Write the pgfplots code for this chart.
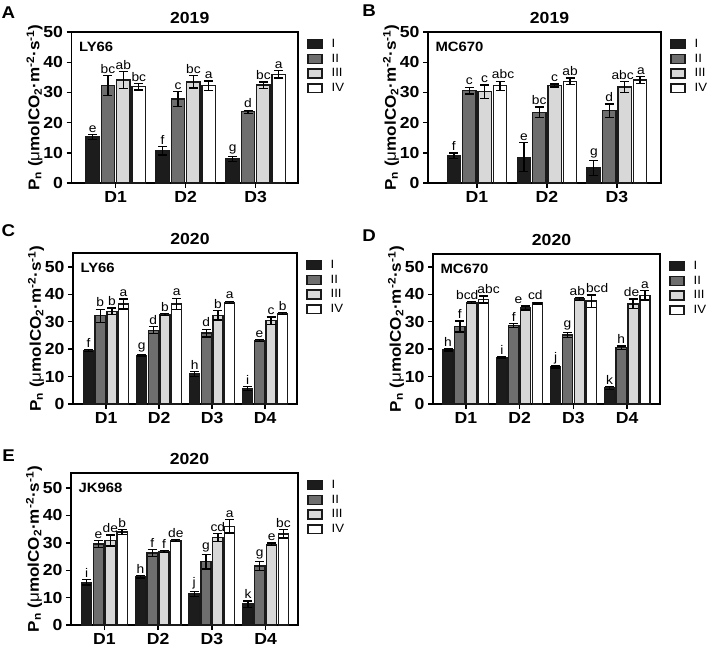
\documentclass[border=0pt]{standalone}
\usepackage{fontspec}
\setmainfont{Liberation Sans}[FakeStretch=1.1]
\usepackage{pgfplots}
\usepackage{pgfplotstable}
\pgfplotsset{compat=1.18}
\definecolor{cI}{HTML}{1C1C1C}
\definecolor{cII}{HTML}{6E6E6E}
\definecolor{cIII}{HTML}{D8D8D8}
\definecolor{cIV}{HTML}{FFFFFF}
\definecolor{edge}{HTML}{1A1A1A}

% columns: value, error, letter, letter x-shift (pt) for series I..IV
\pgfplotstableread{
x a ae al sa b be bl sb c ce cl sc d de dl sd
1 15.2 0.8 e 0 32.3 3.3 bc 0 34.1 2.8 ab 0 31.9 1.1 bc 0
2 10.7 1.4 f 0 27.8 2.5 c 0 33.5 2.0 bc 0 32.2 1.6 a 0
3 8.0 0.8 g 0 23.6 0.5 d 0 32.4 1.0 bc 0 36.0 1.2 a 0
}\tabA
\pgfplotstableread{
x a ae al sa b be bl sb c ce cl sc d de dl sd
1 9.0 0.9 f 0 30.6 1.1 c 0 30.2 2.3 c 0 32.2 1.5 abc 3
2 8.5 4.8 e 0 23.4 1.8 bc 0 32.3 0.5 c 0 33.7 1.1 ab 0
3 5.0 2.5 g 0 24.0 2.2 d 0 31.8 1.8 abc -2 34.1 1.2 a 1
}\tabB
\pgfplotstableread{
x a ae al sa b be bl sb c ce cl sc d de dl sd
1 19.5 0.3 f 0 32.2 2.4 b 0 33.8 1.2 b 0 36.5 1.8 a 0
2 17.8 0.3 g 0 26.9 1.3 d 0 32.6 0.4 b 0 36.5 2.1 a 0
3 11.0 0.9 h 0 25.9 1.4 d 0 32.4 1.7 b 0 37.1 0.4 a 0
4 5.6 0.7 i 0 23.2 0.4 e 0 30.4 1.3 c 0 33.0 0.3 b 0
}\tabC
\pgfplotstableread{
x a ae al sa b be bl sb c ce cl sc d de dl sd
1 19.7 0.4 h 0 28.3 2.0 f 0 37.0 0.4 bcd -4.5 38.1 1.3 abc 5
2 16.8 0.3 i 0 28.6 0.7 f 0 35.0 0.7 e -7 36.8 0.3 cd -2
3 13.5 0.4 j 0 25.2 0.9 g 0 38.3 0.6 ab -2 37.5 2.3 bcd 6
4 5.8 0.6 k 0 20.6 0.6 h 0 36.5 1.8 de -1.5 39.6 1.7 a 0
}\tabD
\pgfplotstableread{
x a ae al sa b be bl sb c ce cl sc d de dl sd
1 15.6 1.0 i 0 29.6 1.2 e 0 30.9 2.0 de 0 34.0 0.9 b 0
2 17.6 0.4 h 0 26.3 1.3 f 0 26.8 0.3 f 0 30.8 0.3 de 0
3 11.3 0.9 j 0 23.1 2.6 g 0 31.9 1.4 cd 0 36.0 2.4 a 0
4 7.6 1.2 k 0 21.5 1.7 g 0 29.5 0.4 e 0 33.3 1.5 bc 0
}\tabE

\pgfplotsset{
  panel/.style={
    scale only axis, ybar, ymin=0,
    ytick={0,10,20,30,40,50},
    axis line style={line width=1.4pt, black},
    every tick/.style={line width=1.4pt, black},
    major tick length=5pt, tick align=outside,
    xtick pos=bottom, ytick pos=left,
    /pgf/number format/assume math mode=true,
    ticklabel style={font=\bfseries\fontsize{16}{16}\selectfont},
    title style={font=\bfseries\fontsize{16}{16}\selectfont, at={(axis description cs:0.5,1)}, anchor=south, xshift=5pt, yshift=1pt, inner sep=1pt},
    ylabel={P\textsubscript{n} ({\mdseries μ}molCO\textsubscript{2}·m\textsuperscript{-2}·s\textsuperscript{-1})},
    every axis y label/.style={at={(axis description cs:0,0.5)}, xshift=-37pt, rotate=90, anchor=center, font=\bfseries\fontsize{15.5}{15.5}\selectfont},
    legend style={at={(axis description cs:1,1)}, anchor=north west, xshift=9pt, yshift=-5pt, draw=none, fill=none, font=\fontsize{12}{12}\selectfont, row sep=1pt, inner sep=0pt,
      /tikz/every odd column/.append style={column sep=7pt}},
    legend cell align=left,
    legend image code/.code={\draw[##1, line width=1.4pt] (0pt,-4.4pt) rectangle (14pt,4.4pt);},
    clip=false,
  },
  bb/.style={draw=edge, line width=1.4pt, bar width=0.19,
    error bars/y dir=both, error bars/y explicit,
    error bars/error bar style={line width=1.3pt, black},
    error bars/error mark options={rotate=90, mark size=4.5pt, line width=1.3pt, black}},
  lab/.style={draw=none, fill=none, bar width=0.19, forget plot,
    nodes near coords, point meta=explicit symbolic,
    visualization depends on={\thisrow{#1} \as \lsh},
    every node near coord/.append style={font=\fontsize{12.5}{12.5}\selectfont, anchor=south, inner sep=1pt, yshift=1pt, xshift=\lsh pt, black}},
}

\newcommand{\bars}[1]{%
  \addplot[bb, fill=cI, bar shift=-0.33] table[x=x, y=a, y error=ae] {#1};
  \addplot[bb, fill=cII, bar shift=-0.11] table[x=x, y=b, y error=be] {#1};
  \addplot[bb, fill=cIII, bar shift=0.11] table[x=x, y=c, y error=ce] {#1};
  \addplot[bb, fill=cIV, bar shift=0.33] table[x=x, y=d, y error=de] {#1};
  \addplot[lab=sa, bar shift=-0.33] table[x=x, y expr=\thisrow{a}+\thisrow{ae}, meta=al] {#1};
  \addplot[lab=sb, bar shift=-0.11] table[x=x, y expr=\thisrow{b}+\thisrow{be}, meta=bl] {#1};
  \addplot[lab=sc, bar shift=0.11] table[x=x, y expr=\thisrow{c}+\thisrow{ce}, meta=cl] {#1};
  \addplot[lab=sd, bar shift=0.33] table[x=x, y expr=\thisrow{d}+\thisrow{de}, meta=dl] {#1};
  \legend{I,II,III,IV}
}
\newcommand{\inner}[1]{\node[anchor=west, font=\bfseries\fontsize{13.5}{13.5}\selectfont, xshift=4pt, yshift=-15pt] at (axis description cs:0,1) {#1};}

\begin{document}
\begin{tikzpicture}
\useasboundingbox (0pt,0pt) rectangle (709pt,-655pt);
\tikzset{pl/.style={font=\bfseries\fontsize{17}{17}\selectfont}}
\node[pl] at (8.5pt,-12.5pt) {A};
\node[pl] at (369pt,-11pt) {B};
\node[pl] at (8.5pt,-231pt) {C};
\node[pl] at (369pt,-236pt) {D};
\node[pl] at (8.5pt,-456pt) {E};

\begin{axis}[panel, at={(71.5pt,-183pt)}, anchor=south west, width=226.5pt, height=151pt,
  xmin=0.369, xmax=3.604, ymax=50, xtick={1,2,3}, xticklabels={D1,D2,D3}, title={2019}]
\bars{\tabA}
\inner{LY66}
\end{axis}

\begin{axis}[panel, at={(428pt,-183pt)}, anchor=south west, width=233pt, height=151pt,
  xmin=0.3, xmax=3.63, ymax=50, xtick={1,2,3}, xticklabels={D1,D2,D3}, title={2019}]
\bars{\tabB}
\inner{MC670}
\end{axis}

\begin{axis}[panel, at={(73pt,-404pt)}, anchor=south west, width=224pt, height=151pt,
  xmin=0.377, xmax=4.6, ymax=55.1, xtick={1,2,3,4}, xticklabels={D1,D2,D3,D4}, title={2020}]
\bars{\tabC}
\inner{LY66}
\end{axis}

\begin{axis}[panel, at={(433pt,-404pt)}, anchor=south west, width=227pt, height=150pt,
  xmin=0.39, xmax=4.61, ymax=54.7, xtick={1,2,3,4}, xticklabels={D1,D2,D3,D4}, title={2020}]
\bars{\tabD}
\inner{MC670}
\end{axis}

\begin{axis}[panel, at={(71pt,-625pt)}, anchor=south west, width=227pt, height=152pt,
  xmin=0.38, xmax=4.6, ymax=55.5, xtick={1,2,3,4}, xticklabels={D1,D2,D3,D4}, title={2020}]
\bars{\tabE}
\inner{JK968}
\end{axis}
\end{tikzpicture}
\end{document}
